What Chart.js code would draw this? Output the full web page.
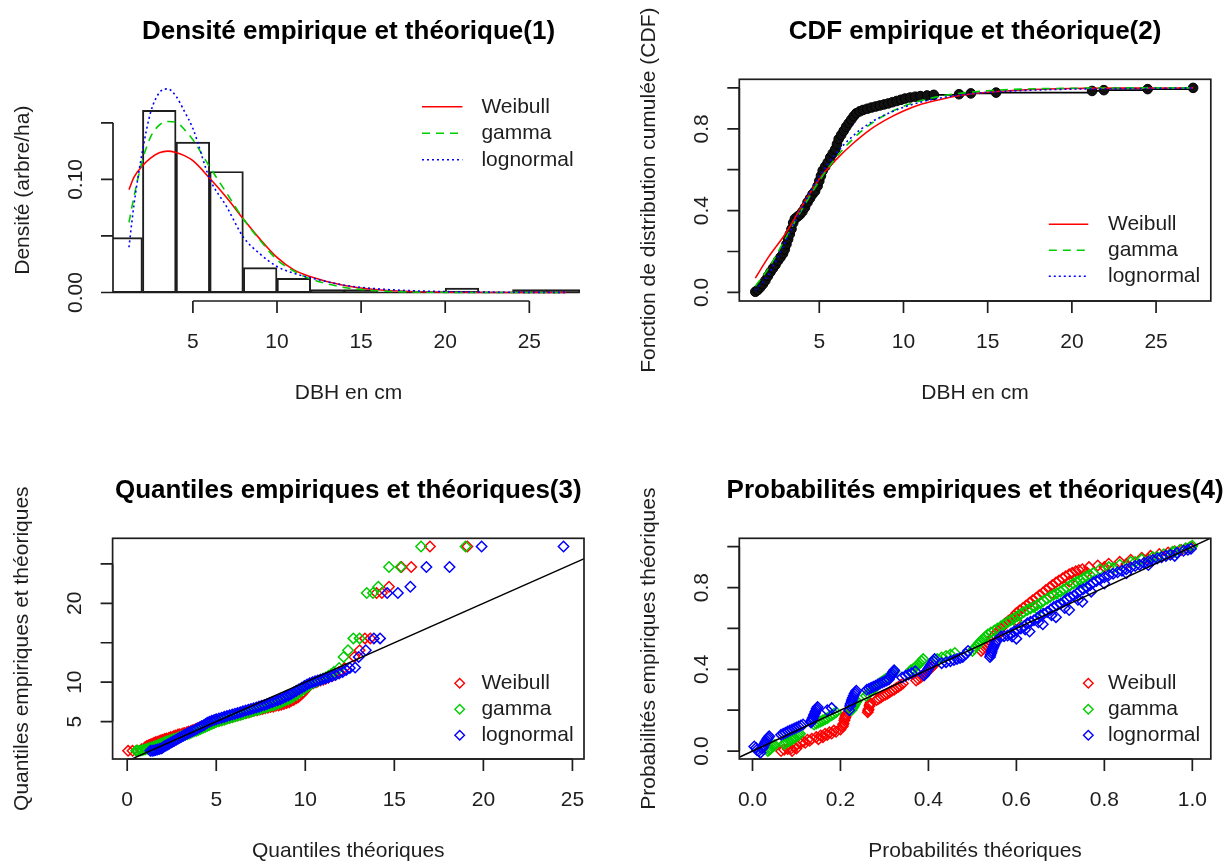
<!DOCTYPE html>
<html><head><meta charset="utf-8">
<script src="https://cdn.jsdelivr.net/npm/chart.js@4.4.1/dist/chart.umd.min.js"></script>
<style>
html,body{margin:0;padding:0;background:#fff;}
#wrap{position:relative;width:1224px;height:865px;overflow:hidden;background:#fff;}
canvas{position:absolute;}
</style></head><body>
<div id="wrap">
<canvas id="c1" width="612" height="432" style="left:0;top:0"></canvas>
<canvas id="c2" width="612" height="432" style="left:612px;top:0"></canvas>
<canvas id="c3" width="612" height="433" style="left:0;top:432px"></canvas>
<canvas id="c4" width="612" height="433" style="left:612px;top:432px"></canvas>
</div>
<script>
// ---------------- DATA ----------------
const distNames = ['Weibull', 'gamma', 'lognormal'];

// Panel 1 : histogram (density) + fitted densities
const histBreaks = [0,2,4,6,8,10,12,14,16,18,20,22,24,26,28];
const histDensity = [0.0485,0.161,0.133,0.107,0.022,0.0126,0.0026,0.0026,0,0,0.0039,0,0.0026,0.0026];
const densX         = [1.2, 1.5, 2, 2.5, 3, 3.5, 4, 4.5, 5, 6, 7, 8, 9, 10, 11, 12, 14, 16, 18, 20, 24, 27.2];
const densWeibull   = [0.091,0.102,0.112,0.119,0.1235,0.125,0.1237,0.121,0.1165,0.101,0.084,0.065,0.047,0.031,0.020,0.014,0.0062,0.0025,0.0009,0.0003,0.00002,0];
const densGamma     = [0.062,0.085,0.117,0.138,0.148,0.1512,0.1505,0.144,0.135,0.111,0.088,0.065,0.046,0.029,0.019,0.012,0.0045,0.0016,0.0005,0.00015,0.00001,0];
const densLognormal = [0.040,0.078,0.125,0.160,0.1765,0.180,0.1735,0.160,0.145,0.1005,0.076,0.049,0.034,0.023,0.017,0.013,0.0065,0.0032,0.0016,0.0008,0.0002,0.0001];

// Panel 2 : empirical CDF and fitted CDFs
const ecdfPoints = [[1.2,0.003],[1.35,0.012],[1.5,0.025],[1.65,0.04],[1.8,0.058],[1.95,0.08],[2.1,0.1],[2.25,0.118],[2.4,0.135],[2.55,0.155],[2.7,0.172],[2.85,0.19],[2.95,0.21],[3.05,0.235],[3.15,0.26],[3.25,0.285],[3.35,0.31],[3.45,0.34],[3.55,0.36],[3.7,0.37],[3.85,0.38],[4.0,0.395],[4.15,0.415],[4.3,0.44],[4.45,0.46],[4.6,0.48],[4.75,0.495],[4.9,0.52],[5.0,0.545],[5.1,0.57],[5.2,0.595],[5.35,0.615],[5.5,0.635],[5.65,0.66],[5.8,0.68],[5.95,0.7],[6.05,0.725],[6.15,0.75],[6.3,0.77],[6.45,0.79],[6.6,0.81],[6.75,0.828],[6.9,0.845],[7.05,0.862],[7.2,0.876],[7.4,0.885],[7.6,0.892],[7.85,0.898],[8.1,0.904],[8.35,0.909],[8.6,0.914],[8.85,0.919],[9.1,0.924],[9.35,0.93],[9.6,0.936],[9.85,0.942],[10.1,0.948],[10.4,0.953],[10.7,0.957],[11.0,0.96],[11.4,0.963],[11.8,0.966],[13.3,0.969],[14.0,0.973],[15.5,0.977],[21.2,0.985],[21.9,0.989],[24.5,0.994],[27.2,1.0]];
const cdfX         = [1.2, 2, 3, 4, 5, 6, 7, 8, 9, 10, 11, 12, 13, 14, 15, 17, 20, 24, 27.2];
const cdfWeibull   = [0.07,0.175,0.288,0.426,0.555,0.649,0.728,0.795,0.846,0.887,0.919,0.94,0.958,0.970,0.979,0.99,0.997,0.999,1.0];
const cdfGamma     = [0.03,0.12,0.265,0.41,0.545,0.66,0.75,0.82,0.872,0.91,0.937,0.956,0.97,0.979,0.986,0.994,0.998,1.0,1.0];
const cdfLognormal = [0.01,0.09,0.25,0.42,0.565,0.68,0.765,0.828,0.872,0.905,0.93,0.948,0.961,0.971,0.978,0.987,0.994,0.997,0.999];

// Panel 3 : Q-Q points [theoretical quantile, empirical quantile]
const qqWeibull = [[0.05,1.3],[0.3,1.3],[0.55,1.35],[0.8,1.5],[1.0,1.75],[1.2,2.0],[1.4,2.2],[1.6,2.4],[1.8,2.55],[2.0,2.7],[2.2,2.85],[2.45,3.05],[2.7,3.25],[2.95,3.4],[3.2,3.55],[3.45,3.75],[3.7,3.95],[3.95,4.15],[4.2,4.4],[4.45,4.6],[4.7,4.8],[4.95,5.0],[5.2,5.15],[5.5,5.35],[5.8,5.55],[6.1,5.75],[6.4,5.95],[6.7,6.1],[7.0,6.3],[7.3,6.45],[7.6,6.6],[7.9,6.75],[8.2,6.9],[8.5,7.05],[8.8,7.25],[9.1,7.45],[9.35,7.75],[9.6,8.1],[9.8,8.5],[10.0,9.0],[10.2,9.5],[10.45,9.85],[10.7,10.1],[11.0,10.3],[11.3,10.6],[11.6,10.9],[11.9,11.3],[12.2,11.8],[12.75,13.2],[13.05,14.05],[13.35,15.55],[13.65,15.55],[14.0,21.3],[14.3,21.3],[14.7,22.1],[15.4,24.6],[15.95,24.6],[17.0,27.2],[19.1,27.2],
  [1.1,1.9],[1.3,2.1],[1.5,2.3],[1.7,2.45],[1.9,2.65],[2.1,2.8],[2.35,2.95],[2.6,3.15],[2.85,3.35],[3.1,3.5],[3.35,3.65],[3.6,3.85],[3.85,4.05],[4.1,4.3],[4.35,4.5],[4.6,4.7],[4.85,4.9],[5.1,5.1],[5.35,5.25],[5.65,5.45],[5.95,5.65],[6.25,5.85],[6.55,6.05],[6.85,6.2],[7.15,6.4],[7.45,6.55],[7.75,6.7],[8.05,6.85],[8.35,7.0],[8.65,7.15],[8.95,7.35],[9.2,7.6],[9.5,7.95],[9.7,8.3],[9.9,8.75],[10.1,9.25],[10.3,9.7],[10.6,10.0],[10.85,10.2],[11.15,10.45],[11.45,10.75]];
const qqGamma = [[0.5,1.3],[0.75,1.35],[1.0,1.45],[1.25,1.65],[1.5,1.85],[1.75,2.05],[2.0,2.3],[2.25,2.5],[2.5,2.7],[2.75,2.9],[3.0,3.1],[3.25,3.3],[3.5,3.5],[3.75,3.75],[4.0,3.95],[4.25,4.2],[4.5,4.45],[4.75,4.7],[5.0,4.95],[5.3,5.15],[5.6,5.35],[5.9,5.55],[6.2,5.75],[6.5,5.95],[6.8,6.15],[7.1,6.35],[7.4,6.55],[7.7,6.75],[8.0,6.95],[8.3,7.15],[8.6,7.4],[8.9,7.7],[9.2,8.0],[9.5,8.4],[9.8,8.9],[10.1,9.4],[10.4,9.85],[10.7,10.15],[11.0,10.45],[11.3,10.8],[11.6,11.3],[11.9,11.8],[12.15,13.2],[12.4,14.05],[12.7,15.55],[13.05,15.55],[13.45,21.3],[13.8,21.3],[14.1,22.1],[14.7,24.6],[15.35,24.6],[16.5,27.2],[19.0,27.2],
  [0.6,1.32],[0.88,1.4],[1.12,1.55],[1.38,1.75],[1.62,1.95],[1.88,2.18],[2.12,2.4],[2.38,2.6],[2.62,2.8],[2.88,3.0],[3.12,3.2],[3.38,3.4],[3.62,3.62],[3.88,3.85],[4.12,4.08],[4.38,4.32],[4.62,4.58],[4.88,4.82],[5.15,5.05],[5.45,5.25],[5.75,5.45],[6.05,5.65],[6.35,5.85],[6.65,6.05],[6.95,6.25],[7.25,6.45],[7.55,6.65],[7.85,6.85],[8.15,7.05],[8.45,7.28],[8.75,7.55],[9.05,7.85],[9.35,8.2],[9.65,8.65],[9.95,9.15],[10.25,9.6],[10.55,10.0],[10.85,10.3],[11.15,10.6],[11.45,11.0]];
const qqLognormal = [[1.3,1.3],[1.5,1.35],[1.7,1.45],[1.9,1.6],[2.05,1.8],[2.2,2.0],[2.35,2.2],[2.55,2.45],[2.75,2.7],[2.95,2.95],[3.15,3.2],[3.35,3.45],[3.55,3.7],[3.8,3.95],[4.05,4.25],[4.3,4.55],[4.5,4.85],[4.75,5.1],[5.0,5.3],[5.3,5.5],[5.6,5.7],[5.9,5.9],[6.2,6.1],[6.5,6.3],[6.8,6.5],[7.1,6.7],[7.4,6.9],[7.7,7.1],[8.0,7.35],[8.3,7.6],[8.6,7.85],[8.9,8.15],[9.2,8.5],[9.5,8.9],[9.8,9.3],[10.1,9.7],[10.4,10.0],[10.7,10.2],[11.0,10.4],[11.3,10.6],[11.7,10.9],[12.1,11.3],[12.5,11.8],[12.8,11.85],[13.0,13.2],[13.4,14.05],[13.85,15.55],[14.2,15.55],[14.6,21.3],[15.2,21.3],[15.9,22.1],[16.8,24.6],[18.1,24.6],[19.9,27.2],[24.5,27.2],
  [1.4,1.32],[1.6,1.4],[1.8,1.52],[1.98,1.7],[2.12,1.9],[2.28,2.1],[2.45,2.32],[2.65,2.58],[2.85,2.82],[3.05,3.08],[3.25,3.32],[3.45,3.58],[3.68,3.82],[3.92,4.1],[4.18,4.4],[4.4,4.7],[4.62,4.98],[4.88,5.2],[5.15,5.4],[5.45,5.6],[5.75,5.8],[6.05,6.0],[6.35,6.2],[6.65,6.4],[6.95,6.6],[7.25,6.8],[7.55,7.0],[7.85,7.22],[8.15,7.48],[8.45,7.72],[8.75,8.0],[9.05,8.32],[9.35,8.7],[9.65,9.1],[9.95,9.5],[10.25,9.85],[10.55,10.1],[10.85,10.3],[11.15,10.5],[11.5,10.75],[11.9,11.1],[12.3,11.55]];

// Panel 4 : P-P points [theoretical probability, empirical probability]
const ppWeibull = [[0.065,0.0],[0.072,0.006],[0.08,0.01],[0.088,0.012],[0.095,0.02],[0.1,0.03],[0.108,0.038],[0.115,0.046],[0.125,0.055],[0.135,0.06],[0.145,0.068],[0.155,0.076],[0.165,0.085],[0.175,0.092],[0.185,0.1],[0.205,0.12],[0.207,0.135],[0.209,0.15],[0.211,0.165],[0.213,0.18],[0.262,0.19],[0.264,0.205],[0.266,0.22],[0.268,0.235],[0.282,0.25],[0.292,0.262],[0.302,0.275],[0.312,0.288],[0.322,0.3],[0.332,0.315],[0.342,0.33],[0.372,0.345],[0.382,0.36],[0.39,0.375],[0.398,0.39],[0.405,0.405],[0.412,0.42],[0.52,0.49],[0.528,0.51],[0.536,0.53],[0.545,0.555],[0.555,0.58],[0.565,0.6],[0.575,0.625],[0.59,0.65],[0.6,0.675],[0.615,0.7],[0.63,0.725],[0.645,0.75],[0.66,0.775],[0.675,0.8],[0.69,0.825],[0.705,0.845],[0.72,0.865],[0.735,0.88],[0.75,0.89],[0.765,0.9],[0.785,0.908],[0.81,0.917],[0.835,0.926],[0.86,0.936],[0.885,0.946],[0.905,0.955],[0.925,0.964],[0.945,0.972],[0.96,0.978],[0.975,0.984],[0.985,0.99],[0.993,0.995],[0.998,1.0],
  [0.09,0.0],[0.1,0.012],[0.12,0.04],[0.13,0.05],[0.15,0.058],[0.16,0.068],[0.17,0.078],[0.18,0.086],[0.19,0.094],[0.2,0.105],[0.206,0.128],[0.21,0.158],[0.212,0.172],[0.263,0.198],[0.267,0.228],[0.287,0.256],[0.297,0.27],[0.307,0.28],[0.317,0.295],[0.327,0.308],[0.337,0.322],[0.377,0.352],[0.386,0.368],[0.394,0.382],[0.408,0.412],[0.524,0.5],[0.532,0.52],[0.54,0.54],[0.55,0.568],[0.56,0.59],[0.57,0.612],[0.582,0.638],[0.595,0.662],[0.607,0.688],[0.622,0.712],[0.637,0.738],[0.652,0.762],[0.667,0.788],[0.682,0.812],[0.697,0.835],[0.712,0.855],[0.727,0.872],[0.742,0.885],[0.56,0.57],[0.6,0.64],[0.64,0.71],[0.68,0.77],[0.72,0.83],[0.76,0.875],[0.8,0.9],[0.85,0.915],[0.9,0.94],[0.95,0.965]];
const ppGamma = [[0.035,0.0],[0.04,0.01],[0.045,0.02],[0.05,0.03],[0.072,0.035],[0.08,0.045],[0.088,0.055],[0.095,0.065],[0.102,0.075],[0.108,0.085],[0.14,0.13],[0.15,0.14],[0.16,0.15],[0.17,0.16],[0.18,0.175],[0.19,0.19],[0.225,0.2],[0.229,0.215],[0.233,0.23],[0.237,0.245],[0.258,0.27],[0.268,0.29],[0.278,0.31],[0.288,0.33],[0.298,0.345],[0.308,0.36],[0.318,0.375],[0.323,0.39],[0.36,0.395],[0.37,0.41],[0.38,0.43],[0.388,0.45],[0.42,0.45],[0.44,0.465],[0.46,0.48],[0.5,0.49],[0.508,0.51],[0.516,0.53],[0.525,0.55],[0.535,0.57],[0.55,0.59],[0.565,0.61],[0.58,0.63],[0.595,0.65],[0.61,0.67],[0.625,0.69],[0.64,0.705],[0.655,0.725],[0.67,0.745],[0.685,0.765],[0.7,0.78],[0.715,0.8],[0.73,0.82],[0.745,0.835],[0.76,0.855],[0.775,0.87],[0.79,0.89],[0.81,0.9],[0.835,0.912],[0.86,0.925],[0.885,0.938],[0.91,0.95],[0.935,0.963],[0.955,0.975],[0.972,0.985],[0.985,0.992],[0.995,0.998],[1.0,1.005],
  [0.038,0.005],[0.042,0.015],[0.048,0.025],[0.076,0.04],[0.084,0.05],[0.092,0.06],[0.098,0.07],[0.105,0.08],[0.145,0.135],[0.155,0.145],[0.165,0.155],[0.175,0.17],[0.185,0.182],[0.227,0.208],[0.231,0.222],[0.235,0.238],[0.263,0.28],[0.273,0.3],[0.283,0.32],[0.293,0.338],[0.303,0.352],[0.313,0.368],[0.365,0.4],[0.375,0.42],[0.384,0.44],[0.43,0.458],[0.45,0.472],[0.504,0.5],[0.512,0.52],[0.52,0.54],[0.53,0.56],[0.542,0.58],[0.557,0.6],[0.572,0.62],[0.587,0.64],[0.602,0.66],[0.617,0.68],[0.632,0.698],[0.647,0.715],[0.662,0.735],[0.677,0.755],[0.692,0.772],[0.707,0.79],[0.722,0.81],[0.737,0.828],[0.752,0.845],[0.767,0.862],[0.6,0.63],[0.65,0.69],[0.7,0.76],[0.75,0.82],[0.82,0.895],[0.87,0.925],[0.92,0.95],[0.96,0.975]];
const ppLognormal = [[0.004,0.022],[0.01,0.005],[0.018,-0.008],[0.022,0.012],[0.026,0.03],[0.03,0.045],[0.034,0.06],[0.038,0.072],[0.065,0.08],[0.075,0.09],[0.085,0.1],[0.095,0.11],[0.105,0.12],[0.115,0.13],[0.133,0.14],[0.136,0.155],[0.139,0.17],[0.142,0.185],[0.145,0.2],[0.148,0.215],[0.17,0.2],[0.18,0.21],[0.22,0.2],[0.222,0.22],[0.225,0.24],[0.228,0.26],[0.232,0.28],[0.236,0.295],[0.26,0.3],[0.27,0.31],[0.28,0.32],[0.29,0.33],[0.3,0.34],[0.31,0.35],[0.314,0.365],[0.318,0.38],[0.322,0.395],[0.34,0.36],[0.355,0.375],[0.37,0.39],[0.39,0.37],[0.396,0.39],[0.402,0.41],[0.408,0.43],[0.414,0.45],[0.43,0.43],[0.45,0.44],[0.465,0.45],[0.478,0.46],[0.485,0.475],[0.49,0.49],[0.54,0.46],[0.543,0.48],[0.546,0.5],[0.55,0.52],[0.555,0.54],[0.565,0.56],[0.58,0.565],[0.595,0.585],[0.61,0.6],[0.625,0.625],[0.64,0.64],[0.655,0.665],[0.67,0.68],[0.685,0.705],[0.7,0.72],[0.715,0.745],[0.73,0.76],[0.745,0.785],[0.76,0.8],[0.775,0.825],[0.79,0.84],[0.81,0.86],[0.83,0.875],[0.85,0.89],[0.87,0.905],[0.89,0.92],[0.91,0.935],[0.93,0.948],[0.95,0.96],[0.965,0.97],[0.98,0.98],[0.99,0.985],[0.997,0.99],[0.59,0.56],[0.62,0.595],[0.65,0.63],[0.68,0.665],[0.71,0.7],[0.74,0.74],[0.77,0.78],
  [0.008,0.015],[0.014,0.0],[0.024,0.02],[0.028,0.038],[0.032,0.052],[0.036,0.066],[0.07,0.085],[0.08,0.095],[0.09,0.105],[0.1,0.115],[0.11,0.125],[0.134,0.148],[0.137,0.162],[0.14,0.178],[0.143,0.192],[0.146,0.208],[0.223,0.23],[0.226,0.25],[0.23,0.27],[0.234,0.288],[0.265,0.305],[0.275,0.315],[0.285,0.325],[0.295,0.335],[0.305,0.345],[0.316,0.372],[0.32,0.388],[0.348,0.368],[0.362,0.382],[0.393,0.38],[0.399,0.4],[0.405,0.42],[0.411,0.44],[0.44,0.435],[0.458,0.445],[0.472,0.455],[0.541,0.47],[0.544,0.49],[0.548,0.51],[0.552,0.53],[0.572,0.562],[0.588,0.575],[0.602,0.592],[0.618,0.612],[0.632,0.632],[0.648,0.652],[0.662,0.672],[0.678,0.692],[0.692,0.712],[0.708,0.732],[0.722,0.752],[0.738,0.772],[0.752,0.792],[0.768,0.812],[0.782,0.832],[0.8,0.85],[0.82,0.868],[0.84,0.882],[0.86,0.898],[0.88,0.912],[0.9,0.928],[0.92,0.942],[0.94,0.955],[0.6,0.55],[0.63,0.585],[0.66,0.62],[0.69,0.655],[0.72,0.69],[0.75,0.73],[0.8,0.82],[0.85,0.87],[0.9,0.91],[0.96,0.955]];

// identity reference lines
const qqRefLine = [-2, 30];
const ppRefLine = [-0.1, 1.1];

// tick positions / labels
const p1XTicks = [5,10,15,20,25];           const p1XLabels = ['5','10','15','20','25'];
const p1YTicks = [0,0.05,0.10,0.15];        const p1YLabels = ['0.00','','0.10',''];
const p2XTicks = [5,10,15,20,25];           const p2XLabels = ['5','10','15','20','25'];
const p2YTicks = [0,0.2,0.4,0.6,0.8,1.0];   const p2YLabels = ['0.0','','0.4','','0.8',''];
const p3XTicks = [0,5,10,15,20,25];         const p3XLabels = ['0','5','10','15','20','25'];
const p3YTicks = [5,10,15,20,25];           const p3YLabels = ['5','10','','20',''];
const p4XTicks = [0,0.2,0.4,0.6,0.8,1.0];   const p4XLabels = ['0.0','0.2','0.4','0.6','0.8','1.0'];
const p4YTicks = [0,0.2,0.4,0.6,0.8,1.0];   const p4YLabels = ['0.0','','0.4','','0.8',''];

// ---------------- STYLE ----------------
const INK = '#1e1e1e';
const FONT = '"Liberation Sans", Arial, Helvetica, sans-serif';
const COL = {Weibull: '#ff0000', gamma: '#00cd00', lognormal: '#0000ff'};
const DASH = {Weibull: [], gamma: [8, 6], lognormal: [2, 3]};

const rPlot = {
  id: 'rplot',
  afterDraw(chart, args, o) {
    const ctx = chart.ctx, a = chart.chartArea, xs = chart.scales.x, ys = chart.scales.y;
    ctx.save();
    ctx.strokeStyle = INK; ctx.fillStyle = INK; ctx.lineWidth = 1.7; ctx.setLineDash([]);
    if (o.box) ctx.strokeRect(a.left, a.top, a.right - a.left, a.bottom - a.top);
    const TL = 12;
    ctx.font = '21px ' + FONT;
    ctx.textAlign = 'center'; ctx.textBaseline = 'middle';
    const xp = o.xTicks.map(v => xs.getPixelForValue(v));
    ctx.beginPath();
    ctx.moveTo(xp[0], a.bottom); ctx.lineTo(xp[xp.length - 1], a.bottom);
    xp.forEach(p => { ctx.moveTo(p, a.bottom); ctx.lineTo(p, a.bottom + TL); });
    ctx.stroke();
    o.xTicks.forEach((v, i) => { if (o.xLabels[i]) ctx.fillText(o.xLabels[i], xp[i], a.bottom + 41); });
    const yp = o.yTicks.map(v => ys.getPixelForValue(v));
    ctx.beginPath();
    ctx.moveTo(a.left, yp[0]); ctx.lineTo(a.left, yp[yp.length - 1]);
    yp.forEach(p => { ctx.moveTo(a.left, p); ctx.lineTo(a.left - TL, p); });
    ctx.stroke();
    o.yTicks.forEach((v, i) => {
      if (!o.yLabels[i]) return;
      ctx.save(); ctx.translate(a.left - 37, yp[i]); ctx.rotate(-Math.PI / 2);
      ctx.fillText(o.yLabels[i], 0, 0); ctx.restore();
    });
    const cx = (a.left + a.right) / 2, cy = (a.top + a.bottom) / 2;
    ctx.fillText(o.xTitle, cx, a.bottom + 92);
    ctx.save(); ctx.translate(a.left - 90, cy); ctx.rotate(-Math.PI / 2);
    ctx.fillText(o.yTitle, 0, 0); ctx.restore();
    ctx.font = 'bold 26px ' + FONT; ctx.fillStyle = '#000';
    ctx.fillText(o.title, cx, a.top - 47.5);
    const L = o.legend;
    if (L) {
      ctx.font = '21px ' + FONT; ctx.textAlign = 'left'; ctx.textBaseline = 'middle';
      L.names.forEach((name, i) => {
        const y = a.top + L.rows[i];
        const ds = chart.data.datasets.find(d => d.label === name);
        ctx.strokeStyle = ds.borderColor; ctx.lineWidth = 1.6;
        if (L.kind === 'line') {
          ctx.setLineDash(ds.borderDash || []);
          ctx.beginPath(); ctx.moveTo(a.right - L.x0, y); ctx.lineTo(a.right - L.x1, y); ctx.stroke();
          ctx.setLineDash([]);
        } else {
          const x = a.right - L.x0, r = 4.8;
          ctx.lineWidth = 1.4;
          ctx.beginPath(); ctx.moveTo(x - r, y); ctx.lineTo(x, y - r); ctx.lineTo(x + r, y); ctx.lineTo(x, y + r); ctx.closePath(); ctx.stroke();
        }
        ctx.fillStyle = INK; ctx.fillText(name, a.right - L.tx, y);
      });
    }
    ctx.restore();
  }
};

function baseOptions(pad, xr, yr, rp) {
  return {
    responsive: false, animation: false, events: [], devicePixelRatio: 1,
    layout: {padding: pad},
    plugins: {legend: {display: false}, title: {display: false}, tooltip: {enabled: false}, rplot: rp},
    scales: {
      x: {type: 'linear', min: xr[0], max: xr[1], display: false, offset: false},
      y: {type: 'linear', min: yr[0], max: yr[1], display: false, offset: false}
    }
  };
}
const toXY = arr => arr.map(p => ({x: p[0], y: p[1]}));
const zipXY = (xs, ys) => xs.map((x, i) => ({x: x, y: ys[i]}));

// ---------- Panel 1 ----------
const histBars = histDensity.map((d, i) => ({x: (histBreaks[i] + histBreaks[i + 1]) / 2, y: d}));
const curveDs = (name, xs, ys, ord) => ({
  type: 'line', label: name, data: zipXY(xs, ys), borderColor: COL[name], borderDash: DASH[name],
  borderWidth: 1.6, pointRadius: 0, cubicInterpolationMode: 'monotone', fill: false, clip: 0, order: ord
});
new Chart(document.getElementById('c1'), {
  type: 'scatter',
  data: {datasets: [
    curveDs('lognormal', densX, densLognormal, 1),
    curveDs('gamma', densX, densGamma, 2),
    curveDs('Weibull', densX, densWeibull, 3),
    {type: 'line', label: 'baseline', data: [{x: histBreaks[0], y: 0}, {x: histBreaks[histBreaks.length - 1], y: 0}],
     borderColor: INK, borderWidth: 1.5, pointRadius: 0, clip: 0, order: 5},
    {type: 'bar', label: 'hist', data: histBars, backgroundColor: 'rgba(0,0,0,0)', borderColor: INK,
     borderWidth: 1.3, borderSkipped: false, barPercentage: 1, categoryPercentage: 1, clip: 0, order: 4}
  ]},
  options: baseOptions({left: 113, right: 28, top: 79.3, bottom: 131}, [0.25, 28.25], [-0.0075, 0.1885], {
    title: 'Densité empirique et théorique(1)', xTitle: 'DBH en cm', yTitle: 'Densité (arbre/ha)',
    box: false, xTicks: p1XTicks, xLabels: p1XLabels, yTicks: p1YTicks, yLabels: p1YLabels,
    legend: {kind: 'line', names: distNames, rows: [27.5, 54, 80.5], x0: 162, x1: 121.6, tx: 102.6}
  }),
  plugins: [rPlot]
});

// ---------- Panel 2 ----------
new Chart(document.getElementById('c2'), {
  type: 'scatter',
  data: {datasets: [
    curveDs('lognormal', cdfX, cdfLognormal, 1),
    curveDs('gamma', cdfX, cdfGamma, 2),
    curveDs('Weibull', cdfX, cdfWeibull, 3),
    {type: 'line', label: 'ecdf', data: toXY(ecdfPoints), stepped: 'before', borderColor: '#000', borderWidth: 1.8,
     pointRadius: 4.8, pointStyle: 'circle', pointBackgroundColor: '#111', pointBorderColor: '#000', pointBorderWidth: 1, clip: 0, order: 4}
  ]},
  options: baseOptions({left: 127.3, right: 13.2, top: 79.3, bottom: 131}, [0.25, 28.25], [-0.042, 1.042], {
    title: 'CDF empirique et théorique(2)', xTitle: 'DBH en cm', yTitle: 'Fonction de distribution cumulée (CDF)',
    box: true, xTicks: p2XTicks, xLabels: p2XLabels, yTicks: p2YTicks, yLabels: p2YLabels,
    legend: {kind: 'line', names: distNames, rows: [145, 171, 197], x0: 162, x1: 122.5, tx: 102.8}
  }),
  plugins: [rPlot]
});

// ---------- Panels 3 & 4 ----------
const pointsDs = (name, arr, ord) => ({
  type: 'scatter', label: name, data: toXY(arr), pointStyle: 'rectRot', pointRadius: 5.2,
  pointBorderWidth: 1.5, borderColor: COL[name], pointBorderColor: COL[name],
  backgroundColor: 'rgba(0,0,0,0)', pointBackgroundColor: 'rgba(0,0,0,0)', showLine: false, clip: 0, order: ord
});
const refDs = (ends) => ({
  type: 'line', label: 'ref', data: ends.map(v => ({x: v, y: v})), borderColor: '#000', borderWidth: 1.5,
  pointRadius: 0, clip: 0, order: 0
});

new Chart(document.getElementById('c3'), {
  type: 'scatter',
  data: {datasets: [
    refDs(qqRefLine),
    pointsDs('lognormal', qqLognormal, 1),
    pointsDs('gamma', qqGamma, 2),
    pointsDs('Weibull', qqWeibull, 3)
  ]},
  options: baseOptions({left: 112.6, right: 28, top: 106.3, bottom: 106}, [-0.82, 25.65], [0.26, 28.24], {
    title: 'Quantiles empiriques et théoriques(3)', xTitle: 'Quantiles théoriques', yTitle: 'Quantiles empiriques et théoriques',
    box: true, xTicks: p3XTicks, xLabels: p3XLabels, yTicks: p3YTicks, yLabels: p3YLabels,
    legend: {kind: 'diamond', names: distNames, rows: [145, 171, 197], x0: 124.3, tx: 102.6}
  }),
  plugins: [rPlot]
});

new Chart(document.getElementById('c4'), {
  type: 'scatter',
  data: {datasets: [
    refDs(ppRefLine),
    pointsDs('lognormal', ppLognormal, 1),
    pointsDs('gamma', ppGamma, 2),
    pointsDs('Weibull', ppWeibull, 3)
  ]},
  options: baseOptions({left: 127.3, right: 13.2, top: 106.3, bottom: 106}, [-0.03, 1.042], [-0.039, 1.041], {
    title: 'Probabilités empiriques et théoriques(4)', xTitle: 'Probabilités théoriques', yTitle: 'Probabilités empiriques théoriques',
    box: true, xTicks: p4XTicks, xLabels: p4XLabels, yTicks: p4YTicks, yLabels: p4YLabels,
    legend: {kind: 'diamond', names: distNames, rows: [145, 171, 197], x0: 122.5, tx: 102.8}
  }),
  plugins: [rPlot]
});
</script>
</body></html>
